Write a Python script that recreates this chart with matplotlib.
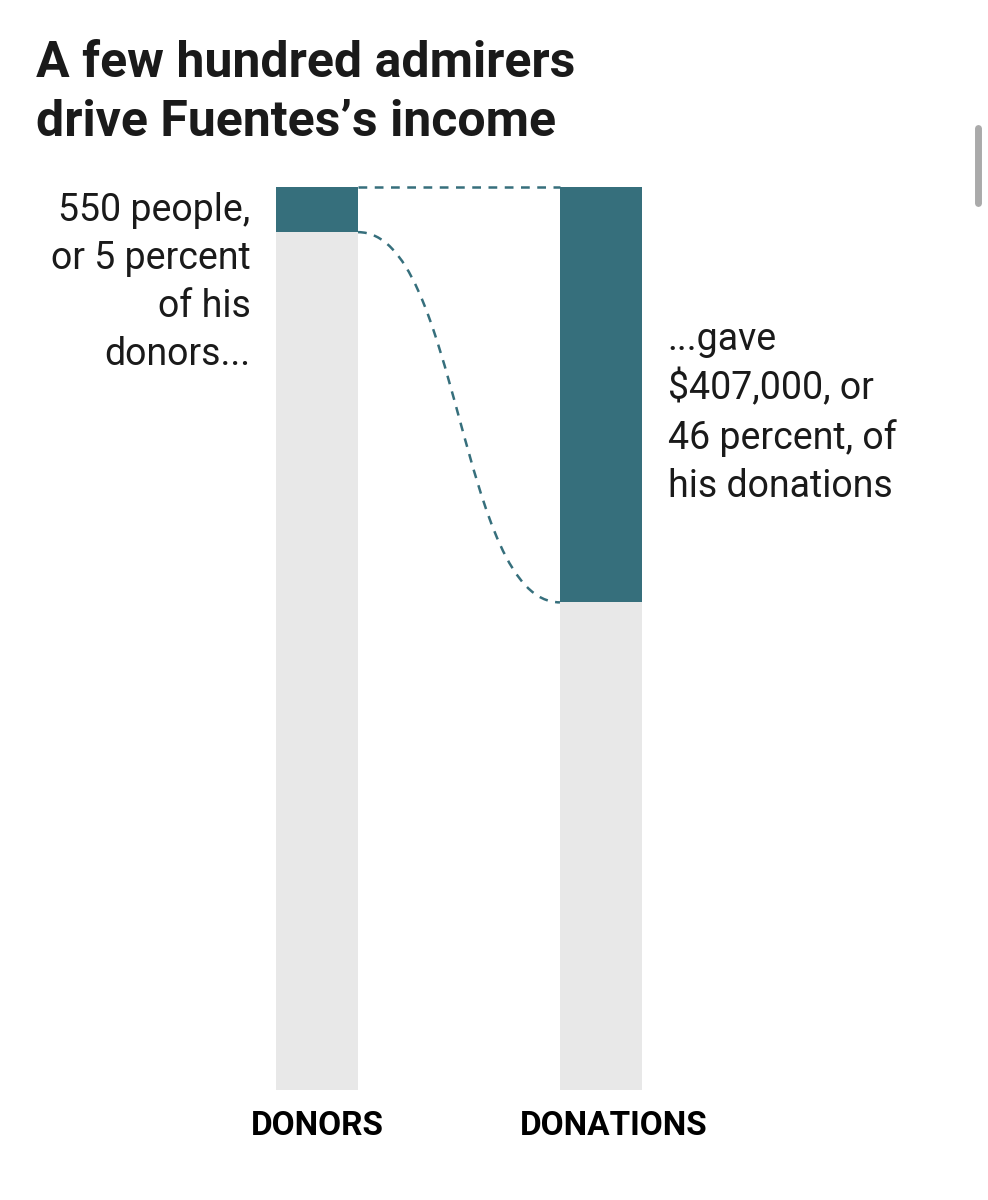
import numpy as np
import matplotlib
matplotlib.use('Agg')
import matplotlib.pyplot as plt
from matplotlib.path import Path
from matplotlib.patches import PathPatch
from matplotlib.lines import Line2D

# data
categories = ['DONORS', 'DONATIONS']
top_share = [5, 46]          # percent held by the top 550 donors
rest_share = [95, 54]
left_note = ['550 people,', 'or 5 percent', 'of his', 'donors...']
right_note = ['...gave', '$407,000, or', '46 percent, of', 'his donations']

teal = '#366f7c'
gray = '#e8e8e8'
ink = '#1a1a1a'

plt.rcParams['font.family'] = ['Roboto', 'DejaVu Sans']

fig = plt.figure(figsize=(9.88, 12), dpi=100)
ax = fig.add_axes([0, 1 - 1090 / 1200, 1, (1090 - 187) / 1200])

x = np.arange(len(categories))
w = 0.289
ax.bar(x, top_share, width=w, color=teal, linewidth=0)
ax.bar(x, rest_share, bottom=top_share, width=w, color=gray, linewidth=0)

ax.set_xlim(-317 / 284, (988 - 317) / 284)
ax.set_ylim(100, 0)
ax.axis('off')

# connector lines
x0 = x[0] + w / 2
x1 = x[1] - w / 2
ax.plot([x0, x1], [0, 0], color=teal, lw=1.8, ls=(0, (3.5, 3)), clip_on=False)
mid = (x0 + x1) / 2
curve = Path([(x0, top_share[0]), (mid, top_share[0]), (mid, top_share[1]), (x1, top_share[1])],
             [Path.MOVETO, Path.CURVE4, Path.CURVE4, Path.CURVE4])
ax.add_patch(PathPatch(curve, fill=False, edgecolor=teal, lw=1.8, ls=(0, (3.5, 3))))

# notes
ax.text(x[0] - w / 2 - 0.09, 0.6, '\n'.join(left_note), ha='right', va='top',
        fontsize=27, color=ink, linespacing=1.38)
ax.text(x[1] + w / 2 + 0.09, 14.8, '\n'.join(right_note), ha='left', va='top',
        fontsize=27, color=ink, linespacing=1.38)

# category labels
for i, name in enumerate(categories):
    ax.text(x[i] + (0.045 if i == 1 else 0), 104.0, name, ha='center', va='center',
            fontsize=24, fontweight='bold', color='black')

fig.text(36 / 988, 1 - 40 / 1200, 'A few hundred admirers\ndrive Fuentes\u2019s income',
         ha='left', va='top', fontsize=36, fontweight='bold', color=ink, linespacing=1.32)

# scrollbar remnant from the screenshot
fig.add_artist(Line2D([978 / 988, 978 / 988], [1 - 128 / 1200, 1 - 203 / 1200],
                      color='#aaaaaa', lw=5, solid_capstyle='round'))

fig.savefig('out.png', dpi=100, facecolor='white')
